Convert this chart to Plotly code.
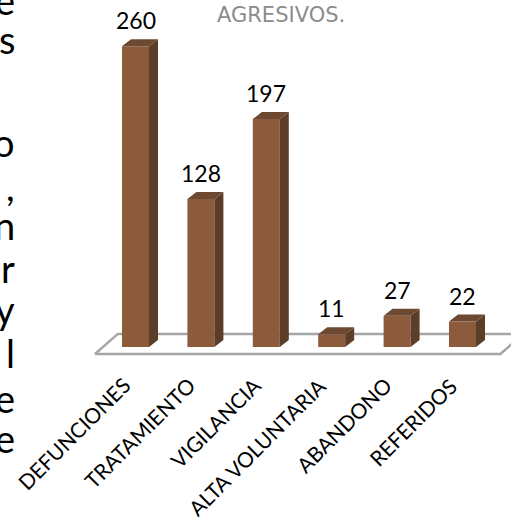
import plotly.graph_objects as go

# Data
categories = ["DEFUNCIONES", "TRATAMIENTO", "VIGILANCIA", "ALTA VOLUNTARIA", "ABANDONO", "REFERIDOS"]
values = [260, 128, 197, 11, 27, 22]
title_text = "AGRESIVOS."

# Fragments of the body text running down the left margin
margin_letters = ["e", "s", "o", ",", "n", "r", "y", "l", "e", "e"]
margin_letter_y = [0, 39, 142, 186, 225, 268, 309, 353, 398, 438]  # pixel rows

W, H = 511, 531
L, R, T, B = 80, 0, 30, 151
PX_PER_CAT = 65.4
PX_PER_UNIT = 1.157
X0_PX = 135.5       # pixel of first category centre
Y0_PX = 347         # pixel of value 0

plot_w = W - L - R
plot_h = H - T - B
x_lo = -(X0_PX - L) / PX_PER_CAT
x_hi = x_lo + plot_w / PX_PER_CAT
y_lo = -(T + plot_h - Y0_PX) / PX_PER_UNIT
y_hi = y_lo + plot_h / PX_PER_UNIT

front_col = "#8B5B3B"
side_col = "#5C3D28"
top_col = "#6E4931"

bw = 27 / PX_PER_CAT          # bar face width
dx = 9 / PX_PER_CAT           # depth offset, x
dy = 7 / PX_PER_UNIT          # depth offset, y

n = len(categories)
xs = list(range(n))

fig = go.Figure()


def face(px, py, color):
    fig.add_trace(go.Scatter(
        x=px, y=py, mode="lines", fill="toself", fillcolor=color,
        line=dict(width=0, color=color), hoverinfo="skip", showlegend=False,
    ))


# Floor slab
fx0, fx1 = -0.62, n - 1 + 0.58
fdx, fdy = 0.35, 17.3
fy = -6.0
fig.add_trace(go.Scatter(
    x=[fx0, fx1, fx1 + fdx, fx0 + fdx, fx0],
    y=[fy, fy, fy + fdy, fy + fdy, fy],
    mode="lines", fill="toself", fillcolor="#ffffff",
    line=dict(color="#a6a6a6", width=2.5), hoverinfo="skip", showlegend=False,
))

# Bars: front, side and top faces, all derived from each value
for i, v in zip(xs, values):
    r = i + bw / 2
    l = i - bw / 2
    face([l, r, r, l, l], [0, 0, v, v, 0], front_col)
    face([r, r + dx, r + dx, r, r], [0, dy, v + dy, v, 0], side_col)
    face([l, r, r + dx, l + dx, l], [v, v, v + dy, v + dy, v], top_col)

annotations = []
# Value labels
for i, v in zip(xs, values):
    annotations.append(dict(
        x=i, y=v, xref="x", yref="y", text=str(v), showarrow=False,
        yshift=26, yanchor="middle", xanchor="center",
        font=dict(family="Lato", size=23, color="#000000"),
    ))
# Category labels, rotated
for i, c in zip(xs, categories):
    annotations.append(dict(
        x=i, y=-19.5, xref="x", yref="y", text=c, showarrow=False,
        textangle=-45, xanchor="right", yanchor="top", xshift=2,
        font=dict(family="Lato", size=21, color="#000000"),
    ))
# Title line
annotations.append(dict(
    x=(281 - L) / plot_w, y=(T + plot_h - 15) / plot_h, xref="paper", yref="paper",
    text=title_text, showarrow=False, xanchor="center", yanchor="middle",
    font=dict(family="DejaVu Sans", size=21, color="#8c8c8c"),
))
# Left-margin text fragments
for ch, py in zip(margin_letters, margin_letter_y):
    annotations.append(dict(
        x=(17 - L) / plot_w, y=(T + plot_h - py) / plot_h, xref="paper", yref="paper",
        text=ch, showarrow=False, xanchor="right", yanchor="middle",
        font=dict(family="Lato", size=38, color="#000000"),
    ))

fig.update_layout(
    width=W, height=H,
    margin=dict(l=L, r=R, t=T, b=B),
    paper_bgcolor="#ffffff", plot_bgcolor="rgba(0,0,0,0)",
    xaxis=dict(range=[x_lo, x_hi], visible=False, fixedrange=True),
    yaxis=dict(range=[y_lo, y_hi], visible=False, fixedrange=True),
    annotations=annotations,
)

fig.write_html("out.html")
